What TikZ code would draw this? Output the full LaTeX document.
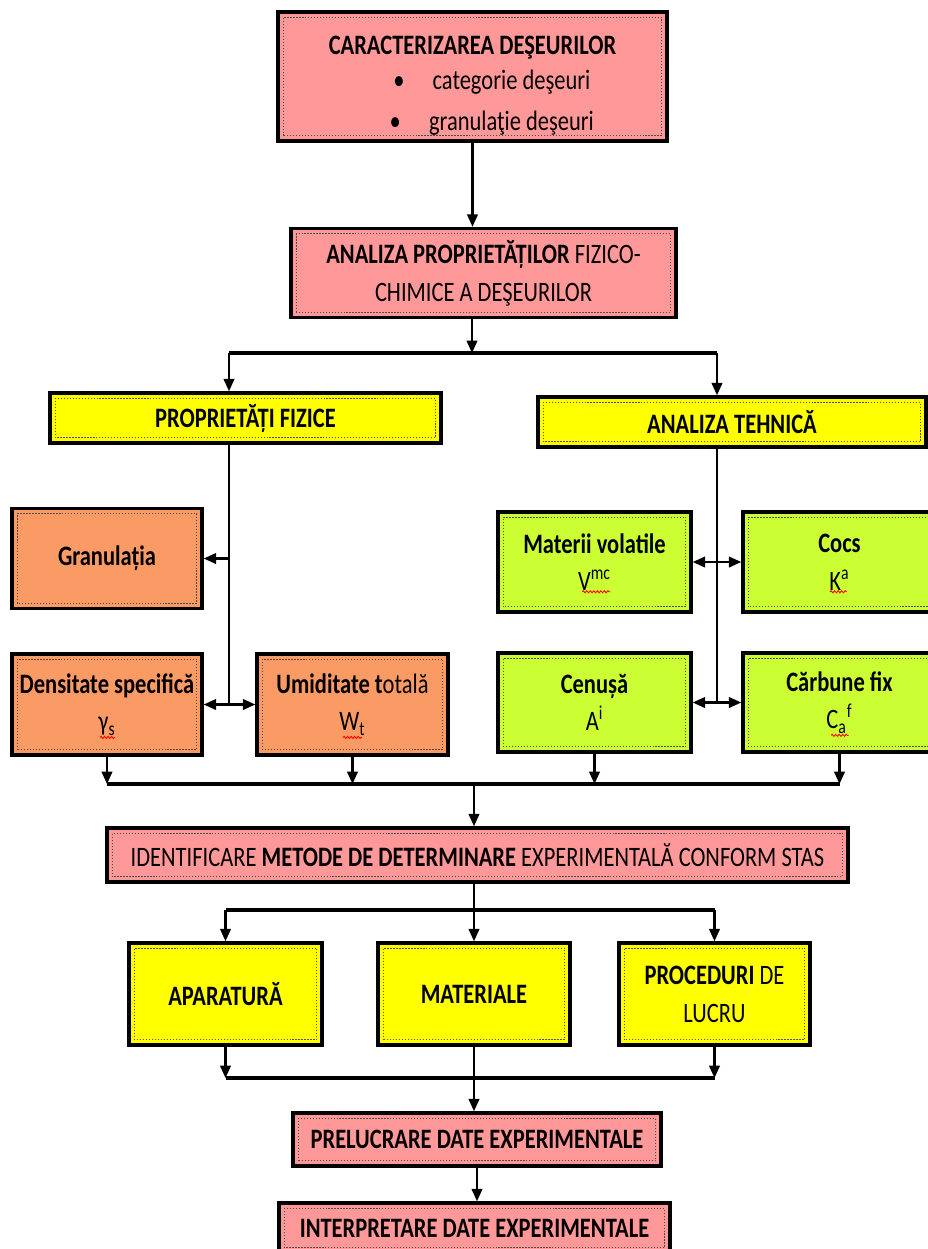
\documentclass[tikz,border=0pt]{standalone}
\usepackage{fontspec}
\setmainfont{Carlito}[FakeStretch=0.8]
\usepackage{tikz}
\usetikzlibrary{arrows.meta,positioning,decorations.pathmorphing}
\definecolor{boxpink}{HTML}{FF9999}
\definecolor{boxyellow}{HTML}{FFFF00}
\definecolor{boxorange}{HTML}{FA9A64}
\definecolor{boxgreen}{HTML}{CCFF33}

\begin{document}
\begin{tikzpicture}[x=0.02cm,y=-0.02cm,font=\fontsize{16}{21.5}\selectfont,
  box/.style={draw=black,line width=2pt,align=center,inner sep=2pt,
    path picture={\draw[black!70,densely dotted,line width=0.7pt]
      ([shift={(3pt,3pt)}]path picture bounding box.south west) rectangle
      ([shift={(-3pt,-3pt)}]path picture bounding box.north east);}},
  pinkbox/.style={box,fill=boxpink},
  yellowbox/.style={box,fill=boxyellow},
  orangebox/.style={box,fill=boxorange},
  greenbox/.style={box,fill=boxgreen},
  arr/.style={-{Triangle[length=7pt,width=6pt]},line width=1.2pt},
  arrs/.style={{Triangle[length=7pt,width=6pt]}-{Triangle[length=7pt,width=6pt]},line width=1.2pt},
  bus/.style={line width=1.8pt},
  spellwave/.style={red,line width=0.5pt,decorate,
    decoration={snake,segment length=2pt,amplitude=0.6pt}}]
\useasboundingbox (0,0) rectangle (928,1249);
\node[pinkbox,minimum width=7.78cm,minimum height=2.58cm] (car) at (472.5,76.5)
  {\rule{0pt}{21pt}\textbf{CARACTERIZAREA DEŞEURILOR}\\[-2pt] \hspace*{22pt}\textbullet\hspace{16pt}categorie deşeuri\\[2pt] \hspace*{22pt}\textbullet\hspace{16pt}granulaţie deşeuri};
\node[pinkbox,minimum width=7.70cm,minimum height=1.78cm] (ana) at (483.5,273)
  {\textbf{ANALIZA PROPRIETĂȚILOR} FIZICO-\\CHIMICE A DEŞEURILOR};
\node[yellowbox,minimum width=7.82cm,minimum height=1cm] (fiz) at (245.5,418) {\textbf{PROPRIETĂȚI FIZICE}};
\node[yellowbox,minimum width=7.76cm,minimum height=1cm] (teh) at (732,422) {\textbf{ANALIZA TEHNICĂ}};
\node[orangebox,minimum width=3.80cm,minimum height=2cm] (gran) at (107,558.5) {\textbf{Granulația}};
\node[orangebox,minimum width=3.80cm,minimum height=2.02cm] (dens) at (107,704.5)
  {\textbf{Densitate specifică}\\γ\textsubscript{s}};
\node[orangebox,minimum width=3.82cm,minimum height=2.02cm] (umid) at (352.5,704.5)
  {\textbf{Umiditate t}otală\\W\textsubscript{t}};
\node[greenbox,minimum width=3.86cm,minimum height=2cm] (mat) at (594.5,562)
  {\textbf{Materii volatile}\\V\textsuperscript{mc}};
\node[greenbox,minimum width=3.86cm,minimum height=2cm] (cocs) at (839.5,562)
  {\textbf{Cocs}\\K\textsuperscript{a}};
\node[greenbox,minimum width=3.86cm,minimum height=1.98cm] (cen) at (594.5,702.5)
  {\textbf{Cenușă}\\A\textsuperscript{i}};
\node[greenbox,minimum width=3.86cm,minimum height=1.98cm] (carb) at (839.5,702.5)
  {\textbf{Cărbune fix}\\C\textsubscript{a}\textsuperscript{f}};
\node[pinkbox,minimum width=14.82cm,minimum height=1.08cm] (ident) at (477.5,855)
  {IDENTIFICARE \textbf{METODE DE DETERMINARE} EXPERIMENTALĂ CONFORM STAS};
\node[yellowbox,minimum width=3.86cm,minimum height=2.04cm] (apar) at (225.5,994) {\textbf{APARATURĂ}};
\node[yellowbox,minimum width=3.84cm,minimum height=2.04cm] (mater) at (474,994) {\textbf{MATERIALE}};
\node[yellowbox,minimum width=3.82cm,minimum height=2.04cm] (proc) at (714.5,994) {\textbf{PROCEDURI} DE\\LUCRU};
\node[pinkbox,minimum width=7.36cm,minimum height=1.06cm] (prel) at (477,1139.5) {\textbf{PRELUCRARE DATE EXPERIMENTALE}};
\node[pinkbox,minimum width=7.82cm,minimum height=1cm] (interp) at (474.5,1228) {\textbf{INTERPRETARE DATE EXPERIMENTALE}};
\draw[spellwave] ([xshift=-4pt,yshift=11pt]dens.south) -- ++(8.5pt,0);
\draw[spellwave] ([xshift=-5.4pt,yshift=11pt]umid.south) -- ++(10.8pt,0);
\draw[spellwave] ([xshift=-7pt,yshift=12.5pt]mat.south) -- ++(16pt,0);
\draw[spellwave] ([xshift=-5.4pt,yshift=12.5pt]cocs.south) -- ++(9.6pt,0);
\draw[spellwave] ([xshift=-4.8pt,yshift=10.5pt]carb.south) -- ++(10pt,0);
\coordinate (split) at (472,353);
\coordinate (fizin) at (229,353);
\coordinate (tehin) at (717,353);
\coordinate (ltrunk) at (229,704.5);
\coordinate (rtrunk) at (717,702.5);
\coordinate (bus1) at (474,784);
\coordinate (bus2) at (474,910);
\coordinate (bus3) at (474,1078);
\draw[arr] (car.south) -- (car.south |- ana.north);
\draw[arr] (ana.south -| split) -- (split);
\draw[bus] (fizin) -- (tehin);
\draw[arr] (fizin) -- (fizin |- fiz.north);
\draw[arr] (tehin) -- (tehin |- teh.north);
\draw[line width=1.2pt] (fiz.south -| ltrunk) -- (ltrunk);
\draw[arr] (gran.east -| ltrunk) -- (gran.east);
\draw[arrs] (dens.east) -- (umid.west);
\draw[line width=1.2pt] (teh.south -| rtrunk) -- (rtrunk);
\draw[arrs] (mat.east) -- (cocs.west);
\draw[arrs] (cen.east) -- (carb.west);
\draw[bus] (dens.south |- bus1) -- (carb.south |- bus1);
\foreach \b in {dens,umid,cen,carb}
  \draw[arr] (\b.south) -- (\b.south |- bus1);
\draw[arr] (bus1) -- (bus1 |- ident.north);
\draw[arr] (ident.south -| mater.north) -- (mater.north);
\draw[bus] (apar.north |- bus2) -- (proc.north |- bus2);
\foreach \b in {apar,proc}
  \draw[arr] (\b.north |- bus2) -- (\b.north);
\draw[bus] (apar.south |- bus3) -- (proc.south |- bus3);
\foreach \b in {apar,proc}
  \draw[arr] (\b.south) -- (\b.south |- bus3);
\draw[arr] (mater.south) -- (mater.south |- prel.north);
\draw[arr] (prel.south) -- (prel.south |- interp.north);
\end{tikzpicture}
\end{document}
